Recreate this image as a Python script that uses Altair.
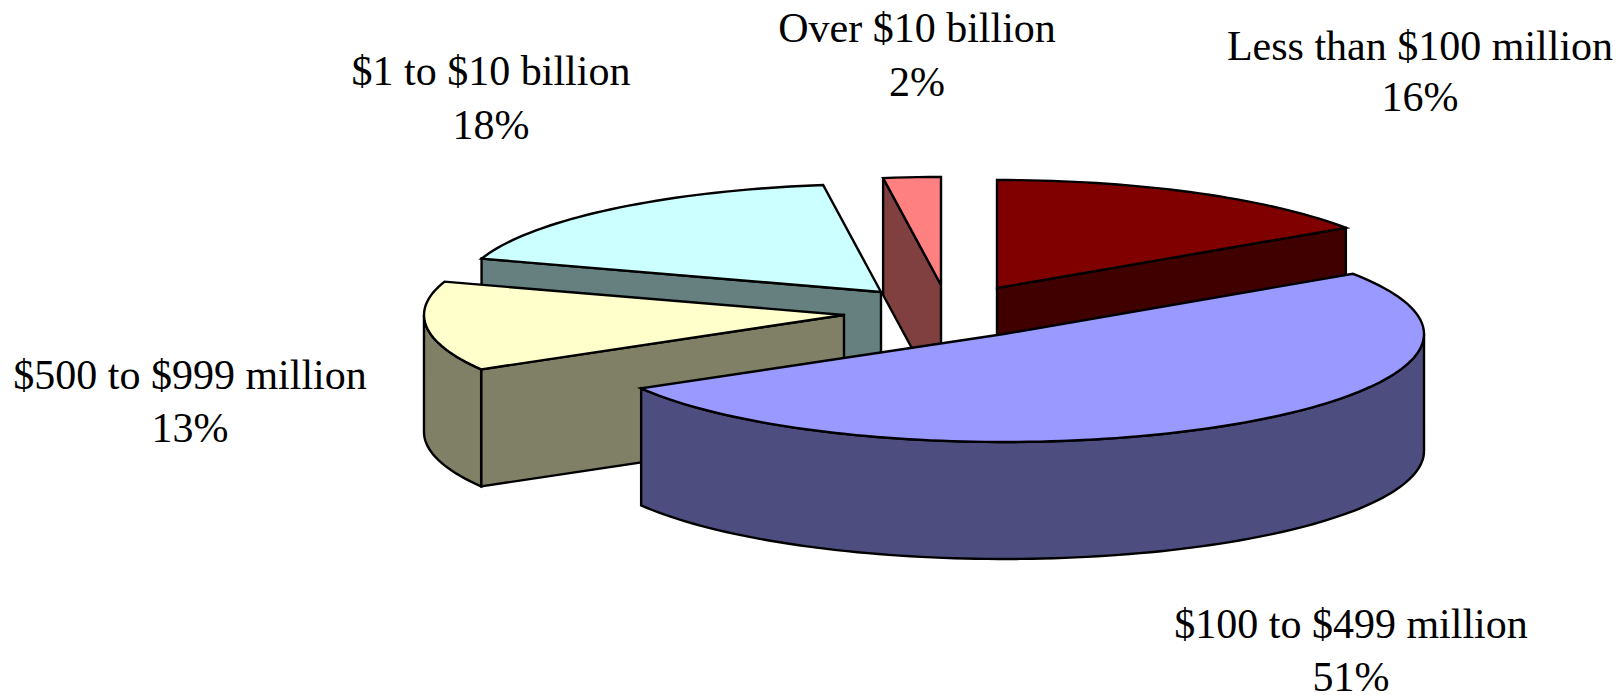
import math
import altair as alt
import pandas as pd

# chart values
categories = ["Less than $100 million", "$100 to $499 million", "$500 to $999 million",
              "$1 to $10 billion", "Over $10 billion"]
shares = [15.6, 51.0, 13.4, 17.8, 2.2]
pct_labels = ["16%", "51%", "13%", "18%", "2%"]
top_colors = ["#800000", "#9999ff", "#ffffcc", "#ccffff", "#ff8080"]
wall_colors = ["#400000", "#4d4d80", "#808066", "#668080", "#804040"]

# pie geometry: exploded slice apex in page pixels
apex_x = [997, 1004, 844, 881, 941]
apex_y = [288, 334, 315, 292, 285]
label_x = [1420, 1351, 190, 491, 917]
label_y1 = [47, 625, 376, 72, 29]
label_y2 = [98, 678, 429, 126, 83]
paint_order = [4, 3, 0, 2, 1]
RX, RY, DEPTH = 420, 108, 117
W, H = 1607, 687
FONT = "Liberation Serif"
FONT_SIZE = 42

starts = []
acc = 0.0
for s in shares:
    starts.append(acc)
    acc += s * 3.6


def rim(k, t, d=0.0):
    a = math.radians(t)
    return apex_x[k] + RX * math.sin(a), apex_y[k] - RY * math.cos(a) + d


def arc(k, a, b, d=0.0):
    n = max(2, int(abs(b - a) / 1.5) + 1)
    return [rim(k, a + (b - a) * j / (n - 1), d) for j in range(n)]


rows = []
pid = 0


def add(points, color):
    global pid
    for i, (x, y) in enumerate(points):
        rows.append({"poly": pid, "i": i, "x": x, "y": y, "c": color})
    pid += 1


for k in paint_order:
    a, b = starts[k], starts[k] + shares[k] * 3.6
    ax, ay = apex_x[k], apex_y[k]
    # flat side walls that face the viewer
    if math.sin(math.radians(a)) < -1e-6:
        p, q = rim(k, a), rim(k, a, DEPTH)
        add([(ax, ay), p, q, (ax, ay + DEPTH)], wall_colors[k])
    if math.sin(math.radians(b)) > 1e-6:
        p, q = rim(k, b), rim(k, b, DEPTH)
        add([(ax, ay), p, q, (ax, ay + DEPTH)], wall_colors[k])
    # curved outer wall, front half only
    lo, hi = max(a, 90), min(b, 270)
    if hi > lo:
        add(arc(k, lo, hi) + arc(k, hi, lo, DEPTH), wall_colors[k])
    # top face
    add([(ax, ay)] + arc(k, a, b), top_colors[k])

poly = pd.DataFrame(rows)

text_rows = []
for k in range(len(categories)):
    text_rows.append({"x": label_x[k], "y": label_y1[k], "t": categories[k]})
    text_rows.append({"x": label_x[k], "y": label_y2[k], "t": pct_labels[k]})
labels = pd.DataFrame(text_rows)

xs = alt.X("x:Q", scale=alt.Scale(domain=[8, 8 + W]), axis=None)
ys = alt.Y("y:Q", scale=alt.Scale(domain=[8 + H, 8]), axis=None)

layers = []
for p in sorted(poly["poly"].unique()):
    sub = poly[poly["poly"] == p]
    layers.append(
        alt.Chart(sub).mark_line(
            interpolate="linear-closed", stroke="black", strokeWidth=2.4,
            fill=sub["c"].iloc[0], strokeJoin="miter", clip=False
        ).encode(x=xs, y=ys, order=alt.Order("i:Q"))
    )

text = alt.Chart(labels).mark_text(
    font=FONT, fontSize=FONT_SIZE, color="black", align="center", baseline="middle"
).encode(x=xs, y=ys, text="t:N")

chart = alt.layer(*layers, text).properties(
    width=W, height=H, padding=0, autosize=alt.AutoSizeParams(type="none")
).configure_view(stroke=None)

chart.save("out.html", embed_options={"renderer": "svg", "actions": False})
